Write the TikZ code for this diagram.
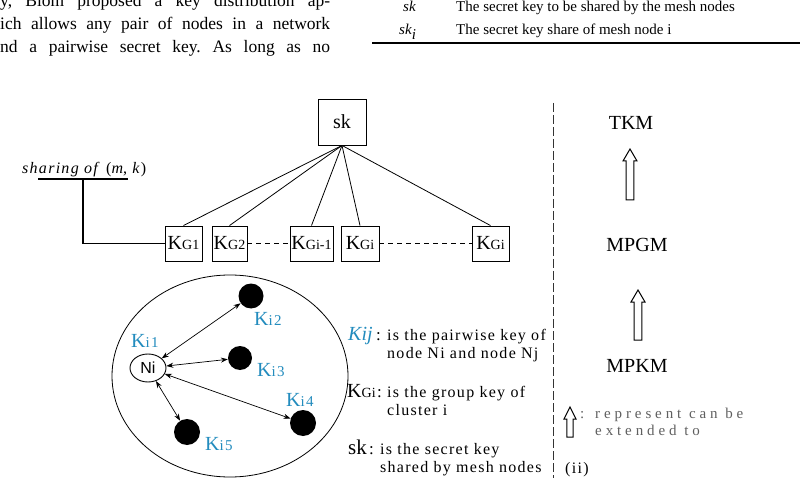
\documentclass[tikz,border=0pt]{standalone}
\usepackage{fontspec}
\setmainfont{Liberation Serif}
\newfontfamily\wide[LetterSpace=8]{Liberation Serif}
\newfontfamily\wideB[LetterSpace=26]{Liberation Serif}
\newfontfamily\arial{Liberation Sans}
\usetikzlibrary{shapes.geometric,arrows.meta}
\definecolor{kblue}{RGB}{35,140,190}
\definecolor{lgray}{RGB}{95,95,95}
\newcommand\fs[1]{\fontsize{#1}{#1}\selectfont}
\newcommand\kgtxt[1]{{\fs{20}K}{\fs{14}G#1}}
\newcommand\kitxt[1]{{\wide\fs{20}K}{\wide\fs{15}i#1}}
\newcommand\hup[5]{% x, ytip, ybottom, shaft half, head half
  \draw[line width=1] (#1-#4,#3) -- (#1-#4,#2+12) -- (#1-#5,#2+12) -- (#1,#2) -- (#1+#5,#2+12) -- (#1+#4,#2+12) -- (#1+#4,#3) -- cycle;}
\begin{document}
\frenchspacing
\begin{tikzpicture}[x=1pt,y=-1pt,
  txt/.style={anchor=base west,inner sep=0pt},
  kbox/.style={draw,line width=0.9pt,minimum height=35pt,inner sep=1pt},
  dot/.style={circle,fill=black,inner sep=0pt},
  klab/.style={anchor=base west,inner sep=0pt,text=kblue},
  link/.style={line width=0.8pt},
  pair/.style={line width=0.7pt,{Stealth[length=7pt,width=5pt]}-{Stealth[length=7pt,width=5pt]}}]
\useasboundingbox (0,0) rectangle (800,478);
\fill[white] (0,0) rectangle (800,478);
% cropped page text
\node[txt] (p1) at (0,7) {\parbox[b]{330pt}{\fs{17.5}\parfillskip=0pt y, Blom proposed a key distribution ap-\par}};
\node[txt] (p2) at (0,30) {\parbox[b]{330pt}{\fs{17.5}\parfillskip=0pt ich allows any pair of nodes in a network\par}};
\node[txt] (p3) at (0,53) {\parbox[b]{330pt}{\fs{17.5}\parfillskip=0pt nd a pairwise secret key. As long as no\par}};
% table fragment
\node[txt] (ta) at (403,12) {\fs{15}\textit{sk}};
\node[txt] (tb) at (456,12) {\fs{15}The secret key to be shared by the mesh nodes};
\node[txt] (tc) at (399,35) {\fs{15}\textit{sk}$_{\textit{i}}$};
\node[txt] (td) at (456,35) {\fs{15}The secret key share of mesh node i};
\coordinate (r1) at (372,43);
\coordinate (r2) at (800,43);
\draw[line width=1.2pt] (r1) -- (r2);
% tree
\node[draw,line width=0.9pt,minimum width=48pt,minimum height=46pt] (sk) at (342,122) {\fs{20}sk};
\node[kbox,minimum width=37pt] (kg1) at (183.5,243.5) {\kgtxt{1}};
\node[kbox,minimum width=35pt] (kg2) at (229.5,243.5) {\kgtxt{2}};
\node[kbox,minimum width=43pt] (kgm) at (311.5,243.5) {\kgtxt{i-1}};
\node[kbox,minimum width=38pt] (kgi) at (360,243.5) {\kgtxt{i}};
\node[kbox,minimum width=37pt] (kgl) at (490.5,243.5) {\kgtxt{i}};
\foreach \b in {kg1,kg2,kgm,kgi,kgl} \draw[link] (sk.south) -- (\b.north);
\draw[line width=0.8pt,dash pattern=on 5pt off 4pt] (kg2.east) -- (kgm.west);
\draw[line width=0.8pt,dash pattern=on 5pt off 4pt] (kgi.east) -- (kgl.west);
\node[txt] (sh) at (22,174) {\wide\fs{16}\textit{sharing of} (\textit{m}, \textit{k})};
\coordinate (u1) at (38,179);
\coordinate (u2) at (128,179);
\coordinate (uj) at (83,179);
\draw[line width=1.6pt] (u1) -- (u2);
\draw[line width=1.6pt] (uj) |- (kg1.west);
% cluster
\node[draw,ellipse,line width=0.8pt,minimum width=236pt,minimum height=202pt] (cl) at (230,376) {};
\node[draw,ellipse,line width=0.9pt,minimum width=36pt,minimum height=28pt,inner sep=0pt] (ni) at (148,368) {\arial\fs{16}Ni};
\node[dot,minimum size=25pt] (d2) at (251,296) {};
\node[dot,minimum size=24pt] (d3) at (240,358) {};
\node[dot,minimum size=26pt] (d4) at (303,423) {};
\node[dot,minimum size=26pt] (d5) at (187,432) {};
\draw[pair] (ni) -- (d2);
\draw[pair] (ni) -- (d3);
\draw[pair] (ni) -- (d4);
\draw[pair] (ni) -- (d5);
\node[klab] (l1) at (131,347) {\kitxt{1}};
\node[klab] (l2) at (254,325) {\kitxt{2}};
\node[klab] (l3) at (257,376) {\kitxt{3}};
\node[klab] (l4) at (286,406) {\kitxt{4}};
\node[klab] (l5) at (205,450) {\kitxt{5}};
% legend
\node[txt] (ka) at (348,340) {\textcolor{kblue}{\fs{20}\textit{Kij}}};
\node[txt] (kb) at (376,340) {\fs{17}:};
\node[txt] (kc) at (387,340) {\wide\fs{16}is the pairwise key of};
\node[txt] (kd) at (387,358) {\wide\fs{16}node Ni and node Nj};
\node[txt] (ga) at (347,397) {\kgtxt{i}};
\node[txt] (gb) at (377,397) {\fs{17}:};
\node[txt] (gc) at (387,397) {\wide\fs{16}is the group key of};
\node[txt] (gd) at (387,415) {\wide\fs{16}cluster i};
\node[txt] (sa) at (348,454) {\fs{21}sk};
\node[txt] (sb) at (369,454) {\fs{17}:};
\node[txt] (sc) at (380,454) {\wide\fs{16}is the secret key};
\node[txt] (sd) at (380,472) {\wide\fs{16}shared by mesh nodes};
% separator
\coordinate (v1) at (553,103);
\coordinate (v2) at (553,478);
\draw[line width=1pt,color=black!80,dash pattern=on 9pt off 3pt] (v1) -- (v2);
% right part
\node (tkm) at (631,123) {\fs{20}TKM};
\node (mpgm) at (637,245) {\fs{20}MPGM};
\node (mpkm) at (637,366) {\fs{20}MPKM};
\hup{630}{149}{200}{3.8}{7}
\hup{638}{290}{340}{3.8}{7}
\hup{570}{407}{437}{3.2}{6}
\node[txt,text=lgray] (ra) at (580,418) {\fs{15}:};
\node[txt,text=lgray] (rb) at (595,418) {\wideB\fs{15}represent can be};
\node[txt,text=lgray] (rc) at (595,435) {\wideB\fs{15}extended to};
\node[txt] (ii) at (565,473) {\wide\fs{16}(ii)};
\end{tikzpicture}
\end{document}
